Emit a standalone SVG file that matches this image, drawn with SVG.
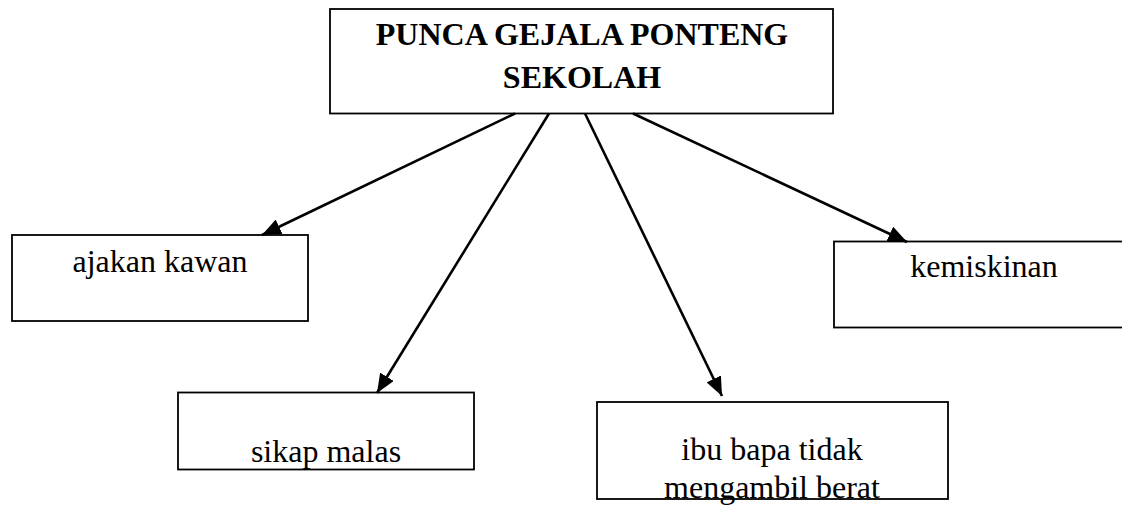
<svg xmlns="http://www.w3.org/2000/svg" width="1122" height="509" viewBox="0 0 1122 509">
<style>
.box{fill:#fff;stroke:#000;stroke-width:1.8}
.t{font-family:"Liberation Serif","Times New Roman",serif;font-size:32px;fill:#000;text-anchor:middle}
.b{font-weight:bold}
.c{stroke:#000;stroke-width:2.6;fill:none;marker-end:url(#ah)}
</style>
<defs>
<marker id="ah" markerUnits="userSpaceOnUse" markerWidth="20" markerHeight="16" refX="19" refY="8" orient="auto">
<path d="M0,0 L19,8 L0,16 z" fill="#000"/>
</marker>
</defs>
<rect width="1122" height="509" fill="#fff"/>
<g id="node-root">
<rect class="box" x="330" y="9" width="503" height="104.5"/>
<text class="t b" x="582" y="45">PUNCA GEJALA PONTENG</text>
<text class="t b" x="582" y="88">SEKOLAH</text>
</g>
<g id="node-ajakan">
<rect class="box" x="12" y="235" width="296" height="86"/>
<text class="t" x="160" y="272">ajakan kawan</text>
</g>
<g id="node-kemiskinan">
<rect class="box" x="834" y="241.5" width="300" height="86"/>
<text class="t" x="984" y="277">kemiskinan</text>
</g>
<g id="node-sikap">
<rect class="box" x="178" y="392.5" width="296" height="77"/>
<text class="t" x="326" y="462">sikap malas</text>
</g>
<g id="node-ibubapa">
<rect class="box" x="597" y="402" width="351" height="97"/>
<text class="t" x="772" y="460">ibu bapa tidak</text>
<text class="t" x="772" y="498">mengambil berat</text>
</g>
<g id="connectors">
<line class="c" x1="515" y1="113.5" x2="262" y2="235"/>
<line class="c" x1="549" y1="113.5" x2="377" y2="393"/>
<line class="c" x1="585" y1="113.5" x2="722" y2="396"/>
<line class="c" x1="633" y1="113.5" x2="907" y2="242"/>
</g>
</svg>
